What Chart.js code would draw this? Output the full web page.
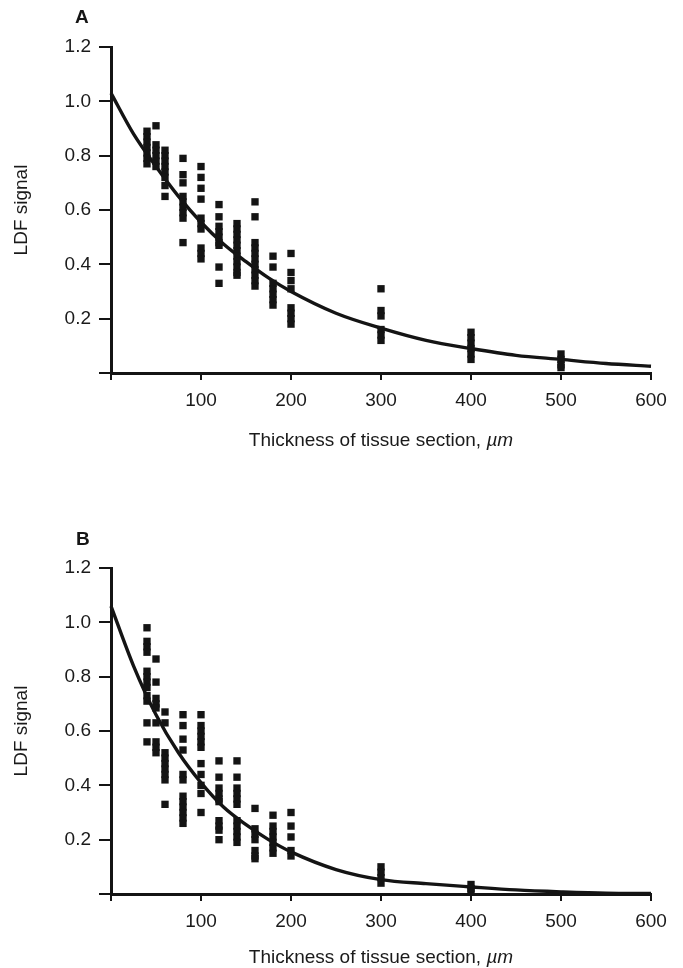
<!DOCTYPE html>
<html>
<head>
<meta charset="utf-8">
<script src="https://cdn.jsdelivr.net/npm/chart.js@4.4.0/dist/chart.umd.min.js"></script>
<style>
  html, body { margin: 0; padding: 0; background: #fff; }
  #page { position: relative; width: 683px; height: 968px; }
  #page canvas { position: absolute; left: 0; }
  .letter { position: absolute; font: bold 19px "Liberation Sans", Arial, sans-serif; color: #151515; }
  .xtitle { position: absolute; left: 161px; width: 440px; text-align: center; line-height: 22px;
            font: 19px "Liberation Sans", Arial, sans-serif; color: #1a1a1a; }
</style>
</head>
<body>
<div id="page">
  <canvas id="chartA" width="683" height="470" style="top:0"></canvas>
  <canvas id="chartB" width="683" height="498" style="top:470px"></canvas>
  <div class="letter" style="left:75px; top:6px">A</div>
  <div class="letter" style="left:76px; top:528px">B</div>
  <div class="xtitle" style="top:429px">Thickness of tissue section, <i>µm</i></div>
  <div class="xtitle" style="top:946px">Thickness of tissue section, <i>µm</i></div>
</div>

<script>
// Section thickness (µm) for each group of readings
const thicknessA = [40, 50, 60, 80, 100, 120, 140, 160, 180, 200, 300, 400, 500];
const thicknessB = [40, 50, 60, 80, 100, 120, 140, 160, 180, 200, 300, 400];

// LDF readings per thickness, panel A
const signalA = [
  [0.89, 0.87, 0.85, 0.83, 0.81, 0.79, 0.77],
  [0.91, 0.84, 0.82, 0.80, 0.78, 0.76],
  [0.82, 0.80, 0.78, 0.76, 0.74, 0.72, 0.69, 0.65],
  [0.79, 0.73, 0.70, 0.65, 0.63, 0.61, 0.59, 0.57, 0.48],
  [0.76, 0.72, 0.68, 0.64, 0.57, 0.55, 0.53, 0.46, 0.44, 0.42],
  [0.62, 0.575, 0.54, 0.52, 0.50, 0.48, 0.47, 0.39, 0.33],
  [0.55, 0.53, 0.51, 0.49, 0.47, 0.45, 0.43, 0.41, 0.39, 0.37, 0.36],
  [0.63, 0.575, 0.48, 0.46, 0.44, 0.42, 0.40, 0.38, 0.36, 0.34, 0.32],
  [0.43, 0.39, 0.33, 0.31, 0.29, 0.27, 0.25],
  [0.44, 0.37, 0.34, 0.31, 0.24, 0.22, 0.20, 0.18],
  [0.31, 0.23, 0.21, 0.16, 0.14, 0.12],
  [0.15, 0.13, 0.11, 0.09, 0.07, 0.05],
  [0.07, 0.05, 0.03, 0.02]
];

// LDF readings per thickness, panel B
const signalB = [
  [0.98, 0.93, 0.91, 0.89, 0.82, 0.80, 0.78, 0.76, 0.73, 0.71, 0.63, 0.56],
  [0.865, 0.78, 0.72, 0.70, 0.685, 0.63, 0.56, 0.54, 0.52],
  [0.67, 0.63, 0.52, 0.50, 0.48, 0.46, 0.44, 0.42, 0.33],
  [0.66, 0.62, 0.57, 0.53, 0.44, 0.42, 0.36, 0.34, 0.32, 0.30, 0.28, 0.26],
  [0.66, 0.62, 0.60, 0.58, 0.56, 0.54, 0.48, 0.44, 0.40, 0.37, 0.30],
  [0.49, 0.43, 0.39, 0.37, 0.35, 0.34, 0.27, 0.25, 0.235, 0.20],
  [0.49, 0.43, 0.39, 0.37, 0.35, 0.33, 0.27, 0.25, 0.23, 0.21, 0.19],
  [0.315, 0.24, 0.22, 0.20, 0.16, 0.14, 0.13],
  [0.29, 0.25, 0.23, 0.21, 0.19, 0.17, 0.15],
  [0.30, 0.25, 0.21, 0.16, 0.14],
  [0.10, 0.08, 0.06, 0.04],
  [0.035, 0.02, 0.01]
];

// Fitted decay curves
const fitX = [0, 25, 50, 75, 100, 125, 150, 175, 200, 250, 300, 350, 400, 450, 500, 550, 600];
const fitA = [1.03, 0.88, 0.76, 0.65, 0.555, 0.475, 0.41, 0.35, 0.30, 0.22, 0.165, 0.12, 0.09, 0.065, 0.05, 0.035, 0.025];
const fitB = [1.06, 0.84, 0.66, 0.52, 0.41, 0.32, 0.255, 0.20, 0.155, 0.09, 0.053, 0.038, 0.026, 0.015, 0.008, 0.003, 0.002];

// Axis ticks
const xTicks = [0, 100, 200, 300, 400, 500, 600];
const yTicks = [0, 0.2, 0.4, 0.6, 0.8, 1.0, 1.2];

const ink = '#141414';
const textColor = '#1a1a1a';
const fonte = { family: '"Liberation Sans", Arial, sans-serif', size: 19 };

function pontos(xs, colunas) {
  const pts = [];
  xs.forEach((x, i) => colunas[i].forEach(y => pts.push({ x, y })));
  return pts;
}

function criarPainel(id, xs, colunas, curva, topo) {
  const canvas = document.getElementById(id);
  const altura = canvas.height;
  return new Chart(canvas, {
    type: 'scatter',
    data: {
      datasets: [
        {
          data: pontos(xs, colunas),
          pointStyle: 'rect',
          pointRadius: 5.2,
          backgroundColor: ink,
          borderWidth: 0,
          clip: false
        },
        {
          data: fitX.map((x, i) => ({ x, y: curva[i] })),
          showLine: true,
          pointRadius: 0,
          borderColor: ink,
          borderWidth: 3.4,
          cubicInterpolationMode: 'monotone',
          clip: false
        }
      ]
    },
    options: {
      responsive: false,
      animation: false,
      layout: { padding: { top: topo, right: 32, left: 0, bottom: 0 } },
      plugins: { legend: { display: false }, tooltip: { enabled: false } },
      scales: {
        x: {
          type: 'linear',
          min: 0,
          max: 600,
          afterBuildTicks: s => { s.ticks = xTicks.map(v => ({ value: v })); },
          afterFit: s => { s.height = altura - topo - 326; },
          border: { color: ink, width: 3 },
          grid: { drawOnChartArea: false, drawTicks: true, tickLength: 7, color: ink, lineWidth: 2 },
          ticks: {
            padding: 9, color: textColor, font: fonte, maxRotation: 0, autoSkip: false,
            callback: v => (v === 0 ? '' : String(v))
          }
        },
        y: {
          type: 'linear',
          min: 0,
          max: 1.2,
          afterBuildTicks: s => { s.ticks = yTicks.map(v => ({ value: v })); },
          afterFit: s => { s.width = 111; },
          border: { color: ink, width: 3 },
          grid: { drawOnChartArea: false, drawTicks: true, tickLength: 12, color: ink, lineWidth: 2 },
          ticks: {
            padding: 8, color: textColor, font: fonte, autoSkip: false,
            callback: v => (Math.abs(v) < 1e-9 ? '' : v.toFixed(1))
          },
          title: { display: true, text: 'LDF signal', color: textColor, font: fonte, padding: { top: 10, bottom: 0 } }
        }
      }
    }
  });
}

criarPainel('chartA', thicknessA, signalA, fitA, 47);
criarPainel('chartB', thicknessB, signalB, fitB, 98);
</script>
</body>
</html>
